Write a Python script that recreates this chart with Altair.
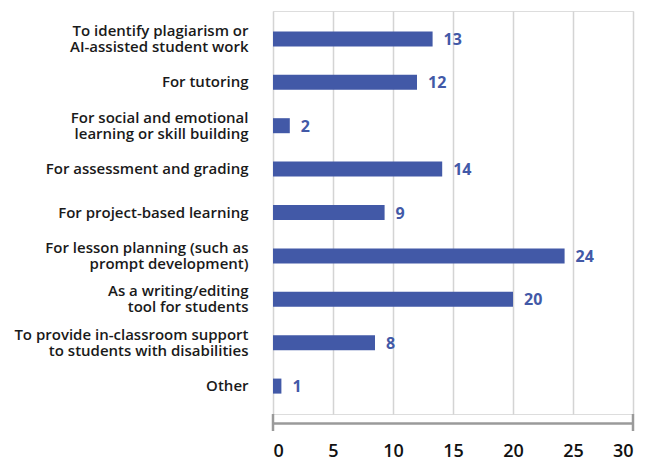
import altair as alt
import pandas as pd

categories = [
    "To identify plagiarism or|AI-assisted student work",
    "For tutoring",
    "For social and emotional|learning or skill building",
    "For assessment and grading",
    "For project-based learning",
    "For lesson planning (such as|prompt development)",
    "As a writing/editing|tool for students",
    "To provide in-classroom support|to students with disabilities",
    "Other",
]
values = [13.3, 12.0, 1.4, 14.1, 9.3, 24.3, 20.0, 8.5, 0.7]
value_labels = ["13", "12", "2", "14", "9", "24", "20", "8", "1"]
x_ticks = [0, 5, 10, 15, 20, 25, 30]
end_ticks = [0, 30]

df = pd.DataFrame({"cat": categories, "val": values, "lab": value_labels})
ends = pd.DataFrame({"v": end_ticks})

W, H = 360, 403
BLUE = "#4259a7"
FONT = "Open Sans"

xscale = alt.Scale(domain=[0, 30], nice=False)
yscale = alt.Scale(domain=categories, paddingInner=0.654, paddingOuter=0.47)

bars = alt.Chart(df).mark_bar(color=BLUE).encode(
    x=alt.X("val:Q", scale=xscale,
            axis=alt.Axis(values=x_ticks, title=None, grid=True, gridColor="#d4d4d4",
                          gridWidth=1.5, domainColor="#9a9a9a", domainWidth=2.5,
                          offset=9, ticks=False, labelFont=FONT, labelFontSize=18,
                          labelFontWeight=600, labelColor="#111", labelPadding=19)),
    y=alt.Y("cat:N", scale=yscale, sort=categories,
            axis=alt.Axis(title=None, domain=False, ticks=False, grid=False,
                          labelExpr="split(datum.label, '|')", labelFont=FONT,
                          labelFontSize=15, labelFontWeight=600, labelColor="#1a1a1a",
                          labelBaseline="middle",
                          labelOffset={"condition": {"test": "indexof(datum.value, '|') >= 0",
                                                     "value": -8},
                                       "value": 0},
                          labelPadding=25, labelLimit=400, labelLineHeight=16)),
)

text = alt.Chart(df).mark_text(align="left", baseline="middle", dx=11, dy=1,
                               font=FONT, fontSize=16, fontWeight="bold",
                               color=BLUE).encode(
    x=alt.X("val:Q", scale=xscale),
    y=alt.Y("cat:N", scale=yscale, sort=categories),
    text="lab:N",
)

ticks = alt.Chart(ends).mark_rule(color="#9a9a9a", strokeWidth=2.5).encode(
    x=alt.X("v:Q", scale=xscale),
    y=alt.value(H),
    y2=alt.value(H + 17),
)

chart = alt.layer(bars, text, ticks).properties(
    width=W, height=H, padding={"top": 3, "left": 5, "right": 5, "bottom": 5}
).configure_view(stroke=None).configure(background="white")

chart.save("out.html", embed_options={"renderer": "svg", "actions": False})
